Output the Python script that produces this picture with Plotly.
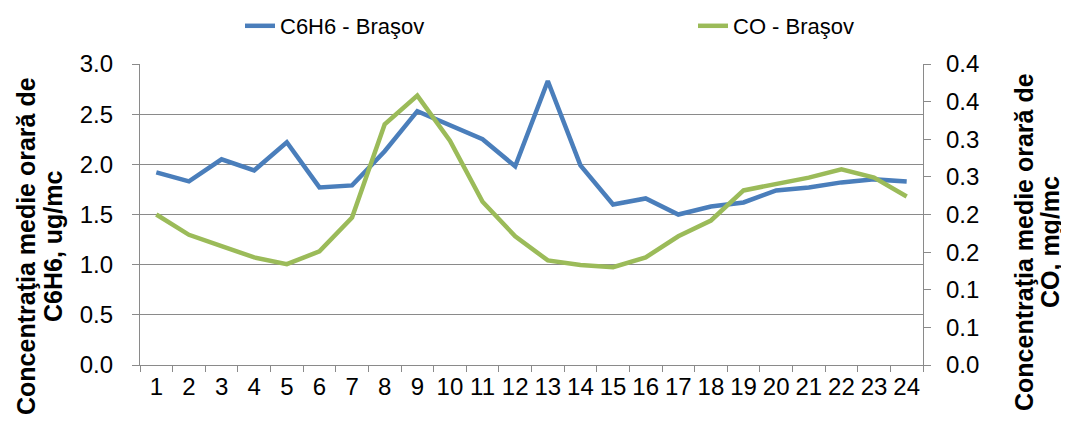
import plotly.graph_objects as go

hours = ["1", "2", "3", "4", "5", "6", "7", "8", "9", "10", "11", "12",
         "13", "14", "15", "16", "17", "18", "19", "20", "21", "22", "23", "24"]
c6h6 = [1.92, 1.83, 2.05, 1.94, 2.22, 1.77, 1.79, 2.13, 2.53, 2.39, 2.25, 1.98,
        2.83, 1.99, 1.60, 1.66, 1.50, 1.58, 1.62, 1.74, 1.77, 1.82, 1.85, 1.83]
co = [0.200, 0.173, 0.158, 0.143, 0.134, 0.151, 0.196, 0.320, 0.358, 0.298, 0.217, 0.171,
      0.139, 0.133, 0.130, 0.143, 0.171, 0.192, 0.232, 0.240, 0.249, 0.260, 0.249, 0.224]
left_ticks = [0.0, 0.5, 1.0, 1.5, 2.0, 2.5, 3.0]
right_tickvals = [0.0, 0.05, 0.10, 0.15, 0.20, 0.25, 0.30, 0.35, 0.40]
right_ticktext = ["0.0", "0.1", "0.1", "0.2", "0.2", "0.3", "0.3", "0.4", "0.4"]

FONT = "Liberation Sans, Arial, sans-serif"
GRID = "#8a8a8a"

# page body has an 8px margin; work in screen coordinates
OFF = 8
SW, SH = 1069, 428
L, R, T, B = 140, 146, 64, 63  # screen-space plot box
W, H = SW - OFF, SH - OFF
pw = SW - L - R
ph = SH - T - B

def px(x):
    return (x - L) / pw

def py(y):
    return (SH - B - y) / ph

fig = go.Figure()
fig.add_trace(go.Scatter(x=hours, y=c6h6, name="C6H6 - Braşov", mode="lines",
                         line=dict(color="#4A7EBB", width=4.5), yaxis="y",
                         legend="legend"))
fig.add_trace(go.Scatter(x=hours, y=co, name="CO - Braşov", mode="lines",
                         line=dict(color="#9BBB59", width=4.5), yaxis="y2",
                         legend="legend2"))

leg_common = dict(orientation="h", xanchor="left", yanchor="middle",
                  font=dict(size=22), bgcolor="rgba(0,0,0,0)")

fig.update_layout(
    width=W, height=H,
    margin=dict(l=L - OFF, r=R, t=T - OFF, b=B, autoexpand=False),
    paper_bgcolor="white", plot_bgcolor="white",
    font=dict(family=FONT, color="black", size=24),
    showlegend=True,
    legend=dict(x=px(240), y=py(26), **leg_common),
    legend2=dict(x=px(693), y=py(26), **leg_common),
    xaxis=dict(type="category", tickson="boundaries", ticks="outside", ticklen=6,
               tickcolor=GRID, tickwidth=1.3, showline=True, linecolor=GRID, linewidth=1.3,
               showgrid=False, tickfont=dict(size=24), tickangle=0, automargin=False,
               range=[-0.5, 23.5]),
    yaxis=dict(range=[0, 3], tickvals=left_ticks, tickformat=".1f", ticks="outside",
               ticklen=7, tickcolor=GRID, tickwidth=1.3, showline=True, linecolor=GRID,
               linewidth=1.3, showgrid=True, gridcolor=GRID, gridwidth=1.3,
               zeroline=False, tickfont=dict(size=24), ticklabelstandoff=14,
               automargin=False),
    yaxis2=dict(range=[0, 0.4], overlaying="y", side="right", tickvals=right_tickvals,
                ticktext=right_ticktext, ticks="outside", ticklen=7, tickcolor=GRID,
                tickwidth=1.3, showline=True, linecolor=GRID, linewidth=1.3,
                showgrid=False, zeroline=False, tickfont=dict(size=24),
                ticklabelstandoff=10, automargin=False),
)

title_font = dict(family=FONT, size=25, color="black")
for text, x, y in [("<b>Concentraţia medie orară de</b>", 26, 246),
                   ("<b>C6H6, ug/mc</b>", 53, 246),
                   ("<b>Concentraţia medie orară de</b>", 1024, 242),
                   ("<b>CO, mg/mc</b>", 1050, 242)]:
    fig.add_annotation(text=text, xref="paper", yref="paper", x=px(x), y=py(y),
                       xanchor="center", yanchor="middle", textangle=-90,
                       showarrow=False, font=title_font)

fig.write_html("out.html")
